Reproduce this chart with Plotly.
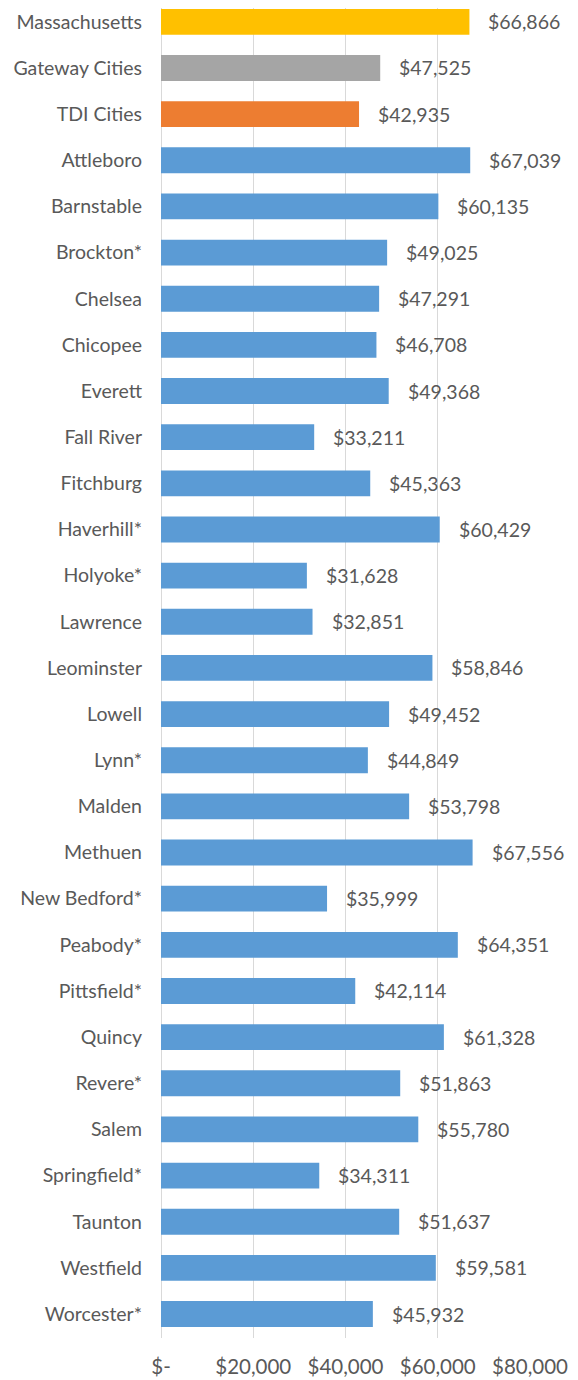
import plotly.graph_objects as go

categories = ["Massachusetts", "Gateway Cities", "TDI Cities", "Attleboro", "Barnstable",
              "Brockton*", "Chelsea", "Chicopee", "Everett", "Fall River", "Fitchburg",
              "Haverhill*", "Holyoke*", "Lawrence", "Leominster", "Lowell", "Lynn*",
              "Malden", "Methuen", "New Bedford*", "Peabody*", "Pittsfield*", "Quincy",
              "Revere*", "Salem", "Springfield*", "Taunton", "Westfield", "Worcester*"]
values = [66866, 47525, 42935, 67039, 60135, 49025, 47291, 46708, 49368, 33211, 45363,
          60429, 31628, 32851, 58846, 49452, 44849, 53798, 67556, 35999, 64351, 42114,
          61328, 51863, 55780, 34311, 51637, 59581, 45932]
tick_vals = [0, 20000, 40000, 60000, 80000]
tick_text = ["$-", "$20,000", "$40,000", "$60,000", "$80,000"]

special_colors = {"Massachusetts": "#FFC000", "Gateway Cities": "#A5A5A5", "TDI Cities": "#ED7D31"}
colors = [special_colors.get(c, "#5B9BD5") for c in categories]

FONT = "Lato, Carlito, Calibri, sans-serif"
TXT = "#595959"

fig = go.Figure()
fig.add_trace(go.Bar(
    x=values, y=categories, orientation="h",
    marker=dict(color=colors, line=dict(width=0)),
    width=0.56, hoverinfo="x+y", showlegend=False,
))

for c, v in zip(categories, values):
    fig.add_annotation(x=v, y=c, text=f"${v:,}", showarrow=False,
                       xanchor="left", xshift=17,
                       font=dict(family=FONT, size=19.5, color=TXT))

n = len(categories)
fig.update_layout(
    width=570, height=1372,
    margin=dict(l=153, r=48, t=0, b=42),
    paper_bgcolor="white", plot_bgcolor="white",
    font=dict(family=FONT, color=TXT),
    xaxis=dict(range=[0, 80000], tickvals=tick_vals, ticktext=tick_text,
               showgrid=True, gridcolor="#D9D9D9", gridwidth=1.3,
               zeroline=True, zerolinecolor="#D9D9D9", zerolinewidth=1.3,
               showline=False, ticks="", ticklabelstandoff=14,
               tickfont=dict(family=FONT, size=20.5, color=TXT), fixedrange=True),
    yaxis=dict(categoryorder="array", categoryarray=categories,
               range=[n - 1 + 0.52, -0.30],
               showgrid=False, showline=False, ticks="", ticklabelstandoff=18,
               tickfont=dict(family=FONT, size=19.5, color=TXT), fixedrange=True),
)

fig.write_html("out.html")
